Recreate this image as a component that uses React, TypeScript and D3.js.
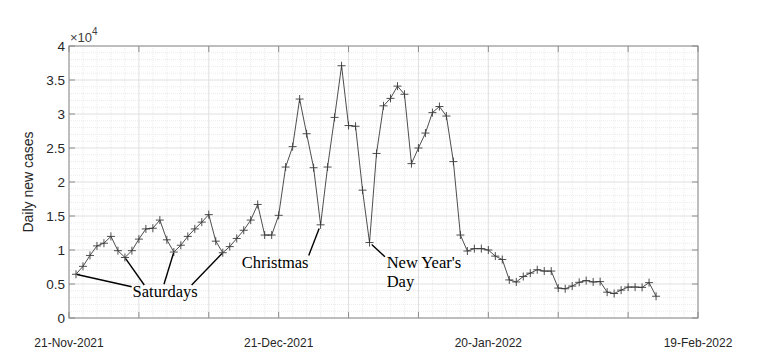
import React from 'react';
import * as d3 from 'd3';

// daily new cases, first point sits one day after the 21-Nov tick
const cases = [
  6430, 7600, 9200, 10600, 11000, 12000, 9900, 8900, 9900, 11600,
  13100, 13200, 14400, 11500, 9700, 10700, 12000, 13100, 14100, 15200,
  11300, 9600, 10500, 11700, 12900, 14400, 16700, 12200, 12200, 15100,
  22200, 25200, 32200, 27100, 22100, 13700, 22200, 29500, 37100, 28300,
  28200, 18800, 11100, 24200, 31200, 32300, 34100, 32900, 22700, 25000,
  27200, 30200, 31100, 29700, 23000, 12200, 9850, 10200, 10200, 10000,
  9100, 8600, 5600, 5300, 6100, 6600, 7100, 6900, 6900, 4400,
  4300, 4700, 5250, 5500, 5300, 5350, 3800, 3600, 4100, 4550,
  4550, 4500, 5200, 3200,
];

const xTickDays = [0, 30, 60, 90];
const xTickLabels = ['21-Nov-2021', '21-Dec-2021', '20-Jan-2022', '19-Feb-2022'];
const yTicks = [0, 5000, 10000, 15000, 20000, 25000, 30000, 35000, 40000];
const yTickLabels = ['0', '0.5', '1', '1.5', '2', '2.5', '3', '3.5', '4'];

// annotation labels: anchor (day, value), target point indexes, line ends (day, value)
const saturdayPoints = [0, 7, 14, 21];
const saturdayEnds: [number, number][] = [[8.97, 4600], [10.77, 4850], [13.59, 4960], [17.55, 4850]];
const notes = [
  { lines: ['Saturdays'], day: 9.1, value: 3130 },
  { lines: ['Christmas'], day: 24.7, value: 7310 },
  { lines: ["New Year's", 'Day'], day: 45.45, value: 7350 },
];
const christmasPoint = 35;
const christmasEnd: [number, number] = [34.3, 9190];
const newYearPoint = 42;
const newYearEnd: [number, number] = [45.2, 9010];

const W = 757;
const H = 360;
const margin = { top: 46, right: 59, bottom: 42, left: 69 };

export default function App() {
  const iw = W - margin.left - margin.right;
  const ih = H - margin.top - margin.bottom;
  const x = d3.scaleLinear().domain([0, 90]).range([0, iw]);
  const y = d3.scaleLinear().domain([0, 40000]).range([ih, 0]);

  const pts = cases.map((v, i) => [x(i + 1), y(v)] as [number, number]);
  const line = d3.line<[number, number]>()(pts) || '';

  const minorX = d3.range(0, 91, 2).filter((d) => d % 10 !== 0);
  const minorY = d3.range(0, 40001, 1000).filter((d) => d % 5000 !== 0);

  const axisCol = '#8c8c8c';
  const textCol = '#262626';
  const sans = '"Liberation Sans", Arial, sans-serif';
  const serif = '"Liberation Serif", "Times New Roman", serif';

  const leader = (pi: number, end: [number, number], gap: number) => {
    const [px, py] = pts[pi];
    const ex = x(end[0]);
    const ey = y(end[1]);
    const len = Math.hypot(ex - px, ey - py);
    const sx = px + ((ex - px) / len) * gap;
    const sy = py + ((ey - py) / len) * gap;
    return <line x1={sx} y1={sy} x2={ex} y2={ey} stroke="#000" strokeWidth={1.4} />;
  };

  return (
    <svg
      width={W}
      height={H}
      style={{ position: 'absolute', left: 0, top: 0, background: '#fff' }}
    >
      <g transform={`translate(${margin.left},${margin.top})`}>
        {/* minor grid */}
        {minorX.map((d) => (
          <line key={'mx' + d} x1={x(d)} x2={x(d)} y1={0} y2={ih} stroke="#ebebeb" strokeWidth={1} strokeDasharray="1,1" />
        ))}
        {minorY.map((d) => (
          <line key={'my' + d} x1={0} x2={iw} y1={y(d)} y2={y(d)} stroke="#ebebeb" strokeWidth={1} strokeDasharray="1,1" />
        ))}
        {/* major grid */}
        {d3.range(0, 91, 10).map((d) => (
          <line key={'gx' + d} x1={x(d)} x2={x(d)} y1={0} y2={ih} stroke="#e0e0e0" strokeWidth={1} />
        ))}
        {yTicks.map((d) => (
          <line key={'gy' + d} x1={0} x2={iw} y1={y(d)} y2={y(d)} stroke="#e0e0e0" strokeWidth={1} />
        ))}

        {/* box and ticks */}
        <rect x={0} y={0} width={iw} height={ih} fill="none" stroke={axisCol} strokeWidth={1} />
        {d3.range(0, 91, 10).map((d) => (
          <g key={'tx' + d}>
            <line x1={x(d)} x2={x(d)} y1={ih} y2={ih - 6} stroke={axisCol} />
            <line x1={x(d)} x2={x(d)} y1={0} y2={6} stroke={axisCol} />
          </g>
        ))}
        {yTicks.map((d) => (
          <g key={'ty' + d}>
            <line x1={0} x2={6} y1={y(d)} y2={y(d)} stroke={axisCol} />
            <line x1={iw} x2={iw - 6} y1={y(d)} y2={y(d)} stroke={axisCol} />
          </g>
        ))}

        {/* tick labels */}
        {yTicks.map((d, i) => (
          <text key={'ly' + d} x={-4} y={y(d)} dy="0.35em" textAnchor="end" fontFamily={sans} fontSize={13.5} fill={textCol}>
            {yTickLabels[i]}
          </text>
        ))}
        {xTickDays.map((d, i) => (
          <text key={'lx' + d} x={x(d)} y={ih + 28.5} textAnchor="middle" fontFamily={sans} fontSize={12} fill={textCol}>
            {xTickLabels[i]}
          </text>
        ))}
        <text x={1} y={-4.5} fontFamily={sans} fontSize={13} fill="#404040">
          ×10
          <tspan dy={-7} fontSize={10}>4</tspan>
        </text>
        <text
          transform={`translate(${-36},${ih / 2}) rotate(-90)`}
          textAnchor="middle"
          fontFamily={sans}
          fontSize={14}
          fill={textCol}
        >
          Daily new cases
        </text>

        {/* data */}
        <path d={line} fill="none" stroke="#3a3a3a" strokeWidth={0.9} />
        {pts.map(([px, py], i) => (
          <path key={'m' + i} d={`M${px - 4},${py}H${px + 4}M${px},${py - 4}V${py + 4}`} stroke="#3a3a3a" strokeWidth={0.9} fill="none" />
        ))}

        {/* annotations */}
        {saturdayPoints.map((pi, i) => (
          <g key={'sat' + pi}>{leader(pi, saturdayEnds[i], 1)}</g>
        ))}
        {leader(christmasPoint, christmasEnd, 4)}
        {leader(newYearPoint, newYearEnd, 3)}
        {notes.map((n) => (
          <text key={n.lines[0]} x={x(n.day)} y={y(n.value)} fontFamily={serif} fontSize={16.5} fill="#000">
            {n.lines.map((t, j) => (
              <tspan key={t} x={x(n.day)} dy={j === 0 ? 0 : 18.7}>{t}</tspan>
            ))}
          </text>
        ))}
      </g>
    </svg>
  );
}
